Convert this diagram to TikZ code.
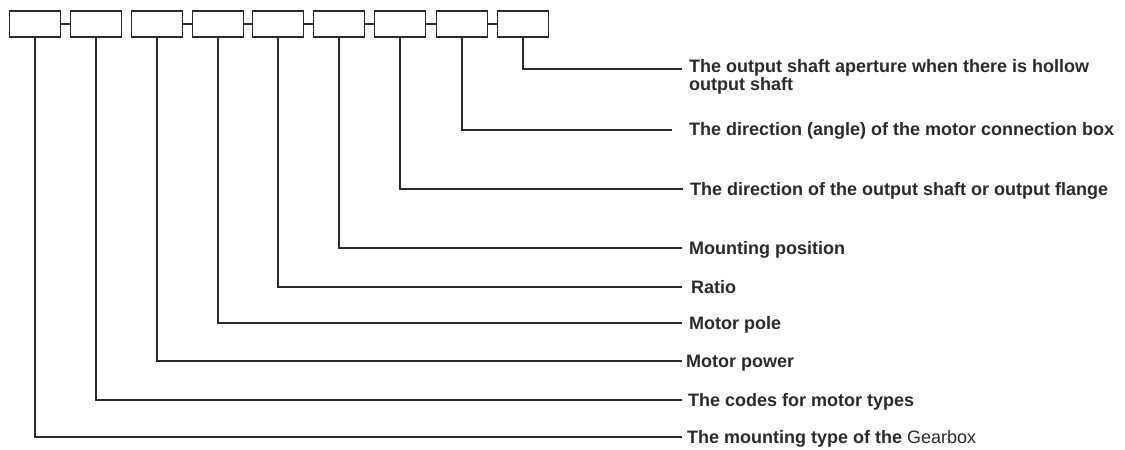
\documentclass[tikz,border=0pt]{standalone}
\usepackage{fontspec}
\setmainfont{Liberation Sans}
\definecolor{ink}{HTML}{2A2A2A}
\begin{document}
\begin{tikzpicture}[x=1pt,y=-1pt,
  codebox/.style={draw=ink,line width=1.5pt,minimum width=51pt,minimum height=26pt,inner sep=0pt,anchor=center},
  link/.style={draw=ink,line width=1.3pt},
  lead/.style={draw=ink,line width=1.3pt},
  lbl/.style={anchor=base west,inner sep=0pt,text=ink,font=\fontsize{18pt}{16pt}\selectfont\bfseries,align=left}]
\useasboundingbox (0,0) rectangle (1125,450);
% code boxes
\foreach \i/\x in {1/35,2/96,3/157,4/218,5/278,6/339,7/400,8/462,9/523}
  \node[codebox] (b\i) at (\x,24) {};
% links between boxes
\foreach \a/\b in {1/2,3/4,4/5,5/6,6/7,7/8,8/9}
  \draw[link] (b\a.east) -- (b\b.west);
% end points of the leaders
\coordinate (e9) at (682,69);
\coordinate (e8) at (672,130);
\coordinate (e7) at (683,189);
\coordinate (e6) at (682,248);
\coordinate (e5) at (682,287);
\coordinate (e4) at (682,323);
\coordinate (e3) at (682,361);
\coordinate (e2) at (682,400);
\coordinate (e1) at (682,437);
\foreach \i in {1,...,9}
  \draw[lead] (b\i.south) |- (e\i);
% labels
\node[lbl] (t9) at (689,90) {The output shaft aperture when there is hollow\\output shaft};
\node[lbl] (t8) at (689,135) {The direction (angle) of the motor connection box};
\node[lbl] (t7) at (690,195) {The direction of the output shaft or output flange};
\node[lbl] (t6) at (689,254) {Mounting position};
\node[lbl] (t5) at (691,293) {Ratio};
\node[lbl] (t4) at (689,329) {Motor pole};
\node[lbl] (t3) at (686,367) {Motor power};
\node[lbl] (t2) at (688,406) {The codes for motor types};
\node[lbl] (t1) at (687,443) {The mounting type of the {\mdseries Gearbox}};
\end{tikzpicture}
\end{document}
